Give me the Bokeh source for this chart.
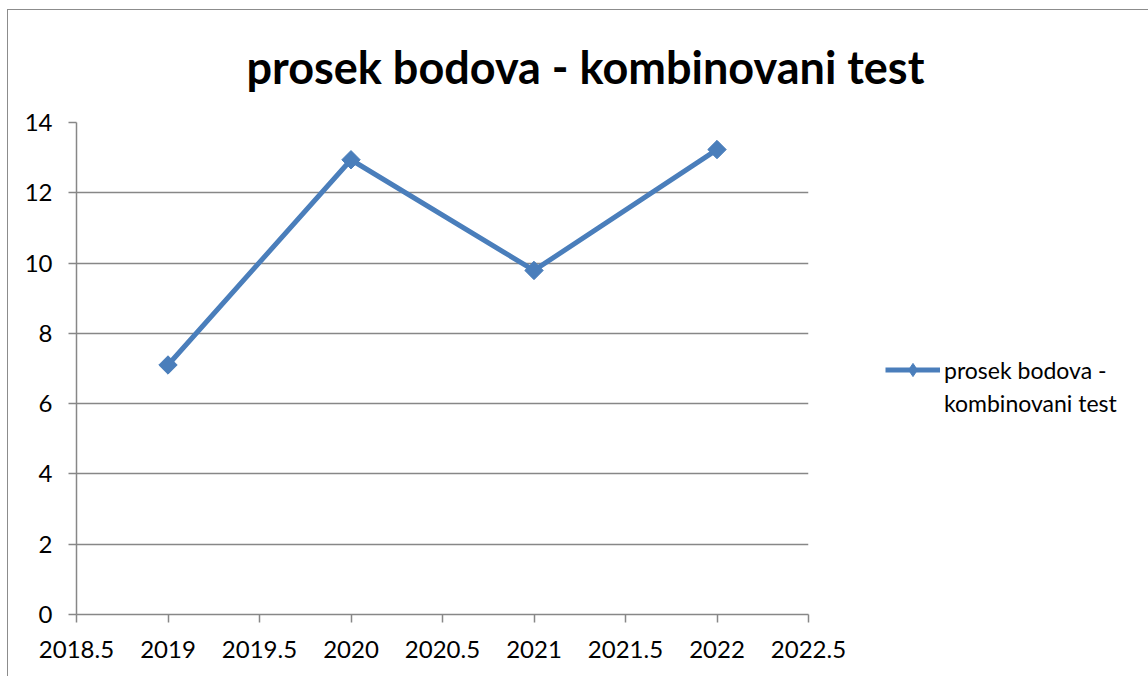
import math
from bokeh.plotting import figure
from bokeh.models import Legend, LegendItem, NumeralTickFormatter, FixedTicker, Range1d
from bokeh.embed import file_html
from bokeh.resources import INLINE

years = [2019, 2020, 2021, 2022]
scores = [7.10, 12.94, 9.79, 13.23]
series_line1 = "prosek bodova -"
series_line2 = "kombinovani test"
title_text = "prosek bodova - kombinovani test"
x_ticks = [2018.5, 2019, 2019.5, 2020, 2020.5, 2021, 2021.5, 2022, 2022.5]
y_ticks = [0, 2, 4, 6, 8, 10, 12, 14]

BLUE = "#4a7ebb"
GRAY = "#878787"
FONT = "Lato"

p = figure(frame_width=732, frame_height=492, output_backend="svg", toolbar_location=None,
           x_range=Range1d(2018.5, 2022.5), y_range=Range1d(0, 14),
           min_border_left=68, min_border_right=339, min_border_top=112, min_border_bottom=62)
p.stylesheets = [":host { margin-left: 7px; margin-top: 9px; "
                 "border-left: 1px solid #8c8c8c; border-top: 1px solid #8c8c8c; }"]

p.title.text = title_text
p.title.text_font = FONT
p.title.text_font_style = "bold"
p.title.text_font_size = "45px"
p.title.align = "left"
p.title.vertical_align = "middle"
p.title.offset = 170
p.title.standoff = 56
p.title.text_color = "black"

p.outline_line_color = None
p.background_fill_color = "white"
p.border_fill_color = "white"

p.xgrid.grid_line_color = None
p.ygrid.grid_line_color = GRAY
p.ygrid.grid_line_width = 1.5

for ax in (p.xaxis[0], p.yaxis[0]):
    ax.axis_line_color = GRAY
    ax.axis_line_width = 1.5
    ax.major_tick_line_color = GRAY
    ax.major_tick_line_width = 1.5
    ax.major_tick_in = 0
    ax.major_tick_out = 8
    ax.minor_tick_line_color = None
    ax.major_label_text_font = FONT
    ax.major_label_text_font_size = "24px"
    ax.major_label_text_color = "black"

p.xaxis[0].ticker = FixedTicker(ticks=x_ticks)
p.yaxis[0].ticker = FixedTicker(ticks=y_ticks)
p.xaxis[0].formatter = NumeralTickFormatter(format="0.[0]")
p.xaxis[0].major_label_standoff = 18
p.yaxis[0].major_label_standoff = 16

ln = p.line(years, scores, line_color=BLUE, line_width=5)
mk = p.scatter(years, scores, marker="square", angle=math.pi / 4, size=13,
               fill_color=BLUE, line_color=BLUE)
# legend-only marker, placed outside the visible range (clipped by the frame)
legend_marker = p.scatter([2030], [50], marker="diamond", size=16, fill_color=BLUE, line_color=BLUE)
blank = p.line([], [], line_alpha=0)

legend = Legend(items=[LegendItem(label=series_line1, renderers=[ln, legend_marker]),
                       LegendItem(label=series_line2, renderers=[blank])],
                location=(77, 195), border_line_color=None, background_fill_alpha=0,
                label_text_font=FONT, label_text_font_size="23px", label_text_color="black",
                glyph_width=55, glyph_height=33, label_height=33, spacing=0,
                label_standoff=4, padding=0, margin=0)
p.add_layout(legend, "right")

open("out.html", "w").write(file_html(p, INLINE))
